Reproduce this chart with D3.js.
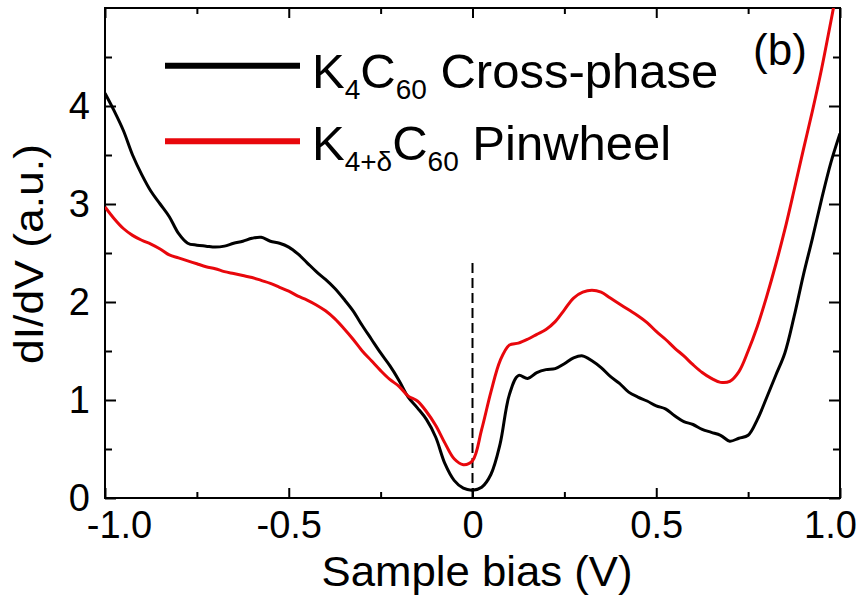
<!DOCTYPE html>
<html>
<head>
<meta charset="utf-8">
<script src="https://cdn.jsdelivr.net/npm/d3@7"></script>
<style>
  body { margin: 0; background: #fff; }
  text { font-family: 'Liberation Sans', Arial, sans-serif; fill: #000; }
</style>
</head>
<body>
<div id="chart"></div>
<script>
// sample bias grid (V)
const biasV = [
  -1.000, -0.975, -0.950, -0.925, -0.900, -0.875, -0.850, -0.825, -0.800, -0.775,
  -0.750, -0.725, -0.700, -0.675, -0.650, -0.625, -0.600, -0.575, -0.550, -0.525,
  -0.500, -0.475, -0.450, -0.425, -0.400, -0.375, -0.350, -0.325, -0.300, -0.275,
  -0.250, -0.225, -0.200, -0.175, -0.150, -0.125, -0.100, -0.075, -0.050, -0.025,
   0.000,  0.025,  0.050,  0.075,  0.100,  0.125,  0.150,  0.175,  0.200,  0.225,
   0.250,  0.275,  0.300,  0.325,  0.350,  0.375,  0.400,  0.425,  0.450,  0.475,
   0.500,  0.525,  0.550,  0.575,  0.600,  0.625,  0.650,  0.675,  0.700,  0.725,
   0.750,  0.775,  0.800,  0.825,  0.850,  0.875,  0.900,  0.925,  0.950,  0.975,
   1.000
];

// K4C60 cross-phase dI/dV
const crossPhase = [
  4.13, 3.95, 3.75, 3.50, 3.30, 3.13, 3.00, 2.87, 2.70, 2.60,
  2.58, 2.57, 2.56, 2.57, 2.60, 2.62, 2.65, 2.66, 2.62, 2.60,
  2.56, 2.49, 2.40, 2.31, 2.23, 2.14, 2.03, 1.91, 1.76, 1.62,
  1.48, 1.35, 1.20, 1.03, 0.92, 0.80, 0.62, 0.35, 0.18, 0.10,
  0.08, 0.11, 0.24, 0.55, 1.05, 1.25, 1.22, 1.28, 1.31, 1.32,
  1.37, 1.43, 1.45, 1.40, 1.33, 1.24, 1.17, 1.08, 1.03, 0.99,
  0.94, 0.91, 0.84, 0.78, 0.75, 0.70, 0.67, 0.64, 0.58, 0.61,
  0.64, 0.80, 1.02, 1.25, 1.48, 1.85, 2.27, 2.65, 3.05, 3.42,
  3.72
];

// K4+dC60 pinwheel dI/dV
const pinwheel = [
  2.97, 2.85, 2.75, 2.68, 2.63, 2.59, 2.54, 2.48, 2.45, 2.42,
  2.39, 2.36, 2.34, 2.31, 2.29, 2.27, 2.25, 2.22, 2.19, 2.15,
  2.11, 2.06, 2.02, 1.97, 1.91, 1.83, 1.73, 1.62, 1.50, 1.40,
  1.30, 1.21, 1.14, 1.04, 0.99, 0.88, 0.74, 0.56, 0.40, 0.34,
  0.38, 0.70, 1.08, 1.40, 1.56, 1.58, 1.62, 1.67, 1.72, 1.80,
  1.92, 2.04, 2.10, 2.12, 2.10, 2.04, 1.98, 1.92, 1.86, 1.79,
  1.70, 1.62, 1.53, 1.45, 1.36, 1.28, 1.22, 1.18, 1.19, 1.29,
  1.50, 1.75, 2.05, 2.38, 2.74, 3.14, 3.55, 3.95, 4.38, 4.86,
  5.35
];

const seriesNames = ['Cross-phase', 'Pinwheel'];
const seriesColors = ['#000000', '#e8070c'];

const xTicks = [-1, -0.5, 0, 0.5, 1];
const xTickLabels = ['-1.0', '-0.5', '0', '0.5', '1.0'];
const xMinor = [-0.75, -0.25, 0.25, 0.75];
const yTicks = [0, 1, 2, 3, 4];
const yMinor = [0.5, 1.5, 2.5, 3.5, 4.5];

const width = 862;
const height = 602;
const margin = { top: 8, right: 22, bottom: 104, left: 105 };
const innerW = width - margin.left - margin.right;
const innerH = height - margin.top - margin.bottom;

const svg = d3
  .select('#chart')
  .append('svg')
  .attr('width', width)
  .attr('height', height);

const chart = svg
  .append('g')
  .attr('transform', `translate(${margin.left}, ${margin.top})`);

const xScale = d3.scaleLinear().domain([-1, 1]).range([0, innerW]);
const yScale = d3.scaleLinear().domain([0, 5]).range([innerH, 0]);

chart
  .append('clipPath')
  .attr('id', 'plot-clip')
  .append('rect')
  .attr('width', innerW)
  .attr('height', innerH);

// axes, ticks pointing inward on all four sides
const fmt = (d) => xTickLabels[xTicks.indexOf(d)];

const xAxis = chart
  .append('g')
  .attr('transform', `translate(0, ${innerH})`)
  .call(d3.axisBottom(xScale).tickValues(xTicks).tickFormat(fmt).tickSize(-10).tickSizeOuter(0).tickPadding(13));
chart
  .append('g')
  .attr('transform', `translate(0, ${innerH})`)
  .call(d3.axisBottom(xScale).tickValues(xMinor).tickFormat('').tickSize(-6).tickSizeOuter(0));
chart
  .append('g')
  .call(d3.axisTop(xScale).tickValues(xTicks).tickFormat('').tickSize(-10).tickSizeOuter(0));
chart
  .append('g')
  .call(d3.axisTop(xScale).tickValues(xMinor).tickFormat('').tickSize(-6).tickSizeOuter(0));

chart
  .append('g')
  .call(d3.axisLeft(yScale).tickValues(yTicks).tickFormat(d3.format('d')).tickSize(-11).tickSizeOuter(0).tickPadding(15));
chart
  .append('g')
  .call(d3.axisLeft(yScale).tickValues(yMinor).tickFormat('').tickSize(-7).tickSizeOuter(0));
chart
  .append('g')
  .attr('transform', `translate(${innerW}, 0)`)
  .call(d3.axisRight(yScale).tickValues(yTicks).tickFormat('').tickSize(-11).tickSizeOuter(0));
chart
  .append('g')
  .attr('transform', `translate(${innerW}, 0)`)
  .call(d3.axisRight(yScale).tickValues(yMinor).tickFormat('').tickSize(-7).tickSizeOuter(0));

chart.selectAll('.domain').remove();
chart.selectAll('.tick line').attr('stroke', '#000').attr('stroke-width', 2);
chart.selectAll('.tick text').style('font-size', '38px').attr('fill', '#000');

// end labels sit inside the frame like in the original
xAxis.selectAll('.tick text').attr('dx', (d) => (d === -1 ? 14 : d === 1 ? -10 : 0));

chart
  .append('rect')
  .attr('width', innerW)
  .attr('height', innerH)
  .attr('fill', 'none')
  .attr('stroke', '#000')
  .attr('stroke-width', 2);

// dashed line at zero bias
chart
  .append('line')
  .attr('x1', xScale(0))
  .attr('x2', xScale(0))
  .attr('y1', yScale(0))
  .attr('y2', yScale(2.45))
  .attr('stroke', '#000')
  .attr('stroke-width', 2)
  .attr('stroke-dasharray', '10,5');

const line = d3
  .line()
  .x((d) => xScale(d[0]))
  .y((d) => yScale(d[1]))
  .curve(d3.curveCatmullRom);

[crossPhase, pinwheel].forEach((values, i) => {
  chart
    .append('path')
    .attr('clip-path', 'url(#plot-clip)')
    .attr('d', line(biasV.map((v, j) => [v, values[j]])))
    .attr('fill', 'none')
    .attr('stroke', seriesColors[i])
    .attr('stroke-width', 3)
    .attr('stroke-linejoin', 'round');
});

// legend
const legend = chart.append('g');
const legendRows = [
  { y: yScale(4.41), base: 80, main: 'K', sub1: '4', mid: 'C', sub2: '60', rest: ' ' + seriesNames[0] },
  { y: yScale(3.64), base: 152, main: 'K', sub1: '4+δ', mid: 'C', sub2: '60', rest: ' ' + seriesNames[1] },
];

legendRows.forEach((r, i) => {
  legend
    .append('line')
    .attr('x1', 60)
    .attr('x2', 195)
    .attr('y1', r.y)
    .attr('y2', r.y)
    .attr('stroke', seriesColors[i])
    .attr('stroke-width', 6);

  const t = legend
    .append('text')
    .attr('x', 207)
    .attr('y', r.base)
    .style('font-size', '49px');
  t.append('tspan').text(r.main);
  t.append('tspan').attr('dy', 11).style('font-size', '28px').text(r.sub1);
  t.append('tspan').attr('dy', -11).text(r.mid);
  t.append('tspan').attr('dy', 11).style('font-size', '28px').text(r.sub2);
  t.append('tspan').attr('dy', -11).text(r.rest);
});

legend
  .append('text')
  .attr('x', 675)
  .attr('y', 57)
  .attr('text-anchor', 'middle')
  .style('font-size', '44px')
  .text('(b)');

// axis titles
svg
  .append('text')
  .attr('x', 477)
  .attr('y', 586)
  .attr('text-anchor', 'middle')
  .attr('textLength', 311)
  .attr('lengthAdjust', 'spacingAndGlyphs')
  .style('font-size', '42px')
  .text('Sample bias (V)');

svg
  .append('text')
  .attr('transform', 'translate(43, 254) rotate(-90)')
  .attr('text-anchor', 'middle')
  .attr('textLength', 220)
  .attr('lengthAdjust', 'spacingAndGlyphs')
  .style('font-size', '41px')
  .text('dI/dV (a.u.)');
</script>
</body>
</html>
